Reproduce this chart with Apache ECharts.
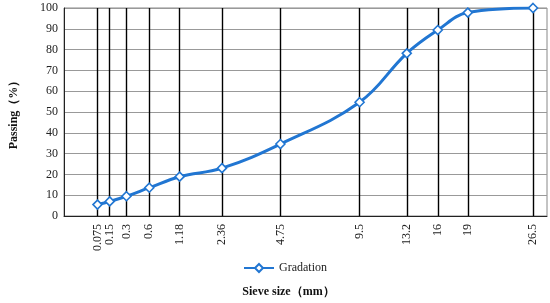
<!DOCTYPE html>
<html>
<head>
<meta charset="utf-8">
<title>gradation</title>
<script src="https://cdn.jsdelivr.net/npm/echarts@6/dist/echarts.min.js"></script>
</head>
<body style="margin:0">
<div id="main" style="width:550px;height:303px"></div>
<script type="text/javascript">
// sieve sizes (mm) and passing (%)
var sieves = ['0.075', '0.15', '0.3', '0.6', '1.18', '2.36', '4.75', '9.5', '13.2', '16', '19', '26.5'];
var passing = [5.5, 7, 9.5, 13.6, 18.9, 23, 34.6, 54.7, 78.2, 89.4, 97.8, 100];

// 0.45 power scale, usual for gradation charts
var P = 0.45;
function tx(d) { return Math.pow(d, P); }
var sievePos = sieves.map(function (s) { return tx(parseFloat(s)); });

var font = 'Liberation Serif';
var myChart = echarts.init(document.getElementById('main'));

var option = {
	backgroundColor: '#fff',
	animation: false,
	grid: {
		left: 63, right: 3, top: 8, bottom: 83,
		show: true, borderColor: '#888', borderWidth: 1
	},
	legend: {
		left: 238, top: 257,
		itemWidth: 30, itemHeight: 10,
		data: ['Gradation'],
		textStyle: { fontFamily: font, fontSize: 12, color: '#222' }
	},
	xAxis: {
		type: 'value',
		min: 0, max: 4.5,
		name: 'Sieve size（mm）',
		nameLocation: 'middle',
		nameGap: 70,
		nameTextStyle: { fontFamily: font, fontSize: 12, fontWeight: 'bold', color: '#111', padding: [0, 34, 0, 0] },
		axisLine: { show: true, lineStyle: { color: '#222', width: 1 } },
		axisTick: { show: false, customValues: sievePos },
		splitLine: { show: true, lineStyle: { color: '#000', width: 1.4 } },
		axisLabel: {
			customValues: sievePos,
			rotate: 90,
			margin: 8,
			fontFamily: font, fontSize: 12, color: '#222',
			formatter: function (v) {
				var best = 0;
				for (var i = 1; i < sievePos.length; i++) {
					if (Math.abs(sievePos[i] - v) < Math.abs(sievePos[best] - v)) best = i;
				}
				return sieves[best];
			}
		}
	},
	yAxis: {
		type: 'value',
		min: 0, max: 100, interval: 10,
		name: 'Passing（%）',
		nameLocation: 'middle',
		nameGap: 44,
		nameTextStyle: { fontFamily: font, fontSize: 12, fontWeight: 'bold', color: '#111' },
		axisLine: { show: true, lineStyle: { color: '#222', width: 1 } },
		axisTick: { show: false },
		splitLine: { show: true, lineStyle: { color: '#999', width: 1 } },
		axisLabel: { fontFamily: font, fontSize: 12, color: '#222', margin: 6 }
	},
	series: [{
		name: 'Gradation',
		type: 'line',
		smooth: 0.4,
		data: sievePos.map(function (x, i) { return [x, passing[i]]; }),
		symbol: 'diamond',
		symbolSize: 9,
		lineStyle: { color: '#2176d2', width: 3 },
		itemStyle: { color: '#fff', borderColor: '#2176d2', borderWidth: 1.6 },
		z: 5
	}]
};
myChart.setOption(option);
</script>
</body>
</html>
